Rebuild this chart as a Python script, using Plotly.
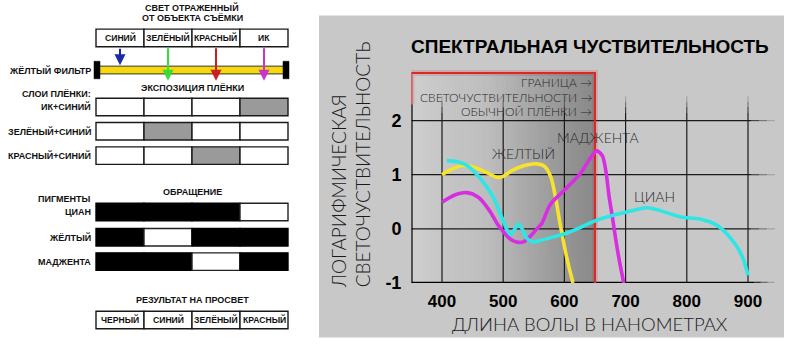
import plotly.graph_objects as go

W, H = 807, 363

# ---------------- data ----------------
light_labels = ["СИНИЙ", "ЗЕЛЁНЫЙ", "КРАСНЫЙ", "ИК"]
arrow_colors = ["#1b2aa6", "#35dd35", "#cc1f1f", "#cc33cc"]
arrow_stops = ["filter", "film", "film", "film"]
film_rows = ["ИК+СИНИЙ", "ЗЕЛЁНЫЙ+СИНИЙ", "КРАСНЫЙ+СИНИЙ"]
film_exposed = [[0, 0, 0, 1], [0, 1, 0, 0], [0, 0, 1, 0]]
pigment_rows = ["ЦИАН", "ЖЁЛТЫЙ", "МАДЖЕНТА"]
pigment_dense = [[1, 1, 1, 0], [1, 0, 1, 1], [1, 1, 0, 1]]
result_labels = ["ЧЕРНЫЙ", "СИНИЙ", "ЗЕЛЁНЫЙ", "КРАСНЫЙ"]

yellow_nm = [400, 415, 435, 455, 475, 490, 500, 515, 535, 555, 568, 578, 586, 593, 604, 614]
yellow_val = [1.0, 1.1, 1.17, 1.13, 1.03, 0.95, 0.97, 1.08, 1.17, 1.2, 1.15, 0.95, 0.55, 0.09, -0.54, -1.0]

magenta_nm = [400, 420, 440, 460, 478, 490, 500, 512, 525, 533, 545, 555, 563, 577, 604, 626, 642, 653, 662, 668, 673, 678, 684, 690, 697]
magenta_val = [0.49, 0.62, 0.67, 0.58, 0.33, 0.1, -0.05, -0.19, -0.25, -0.24, -0.13, 0.0, 0.1, 0.45, 0.76, 1.02, 1.3, 1.44, 1.35, 1.05, 0.6, 0.25, -0.2, -0.6, -1.0]

cyan_nm = [408, 425, 441, 462, 483, 500, 511, 518, 525, 531, 538, 548, 565, 585, 601, 625, 653, 680, 702, 735, 767, 790, 821, 845, 859, 872, 882, 892, 900]
cyan_val = [1.26, 1.24, 1.17, 0.94, 0.6, 0.15, -0.1, -0.02, 0.09, 0.0, -0.17, -0.24, -0.2, -0.14, -0.09, 0.02, 0.16, 0.25, 0.31, 0.39, 0.3, 0.22, 0.18, 0.09, -0.02, -0.18, -0.33, -0.55, -0.86]

x_ticks = [400, 500, 600, 700, 800, 900]
y_ticks = [-1, 0, 1, 2]

band_nm = list(range(350, 652, 2))
band_colors = [[0, "#cfcfcf"], [0.15, "#c7c7c7"], [0.4, "#bebebe"], [0.55, "#b0b0b0"],
               [0.75, "#9d9d9d"], [0.92, "#8e8e8e"], [1, "#8b8b8b"]]
limit_nm = 650
box_top = 2.88

LIGHT = "Lato"
BOLD = "Liberation Sans"


def P(x, y):
    return x / W, 1 - y / H


fig = go.Figure()
shapes = []
annots = []


def rect(x0, y0, x1, y1, fill, line="#1a1a1a", lw=1.4):
    a, b = P(x0, y0)
    c, d = P(x1, y1)
    shapes.append(dict(type="rect", xref="paper", yref="paper", x0=a, y0=d, x1=c, y1=b,
                       fillcolor=fill, line=dict(color=line, width=lw), layer="below"))


def text(x, y, s, size=9, anchor="center", bold=True, color="#111", family=BOLD):
    a, b = P(x, y)
    annots.append(dict(x=a, y=b, xref="paper", yref="paper", text=s, showarrow=False,
                       xanchor=anchor, yanchor="middle",
                       font=dict(family=family, size=size, color=color,
                                 weight="bold" if bold else "normal")))


# ---------------- left diagram ----------------
edges = [96, 144, 192, 240, 288]
cx = [(edges[i] + edges[i + 1]) / 2 for i in range(4)]
CELL = 8.6

text(192, 8, "СВЕТ ОТРАЖЕННЫЙ")
text(192, 19, "ОТ ОБЪЕКТА СЪЁМКИ")
for i, lab in enumerate(light_labels):
    rect(edges[i], 30, edges[i + 1], 48, "white")
    text(cx[i], 39, lab, size=CELL)

# yellow filter
rect(97, 68, 286, 76, "#f6d80c", line="#333", lw=1)
rect(94, 63, 100, 81, "black", line="black", lw=0.5)
rect(283, 63, 289, 81, "black", line="black", lw=0.5)
text(93, 72, "ЖЁЛТЫЙ ФИЛЬТР", anchor="right")

arrow_x = [120, 168, 216, 264]
for i in range(4):
    end = 67 if arrow_stops[i] == "filter" else 83
    a, b = P(arrow_x[i], end)
    annots.append(dict(x=a, y=b, xref="paper", yref="paper", text="", showarrow=True,
                       ax=0, ay=-(end - 49), axref="pixel", ayref="pixel",
                       arrowhead=2, arrowsize=1.1, arrowwidth=2, arrowcolor=arrow_colors[i]))

text(192, 90, "ЭКСПОЗИЦИЯ ПЛЁНКИ")
text(93, 97, "СЛОИ ПЛЁНКИ:", anchor="right")
film_y = [101, 126, 151]
for r, lab in enumerate(film_rows):
    y0 = film_y[r]
    for i in range(4):
        rect(edges[i], y0, edges[i + 1], y0 + 18, "#9a9a9a" if film_exposed[r][i] else "white")
    text(93, y0 + 9, lab, anchor="right")

text(192, 197, "ОБРАЩЕНИЕ")
text(93, 205, "ПИГМЕНТЫ", anchor="right")
pig_y = [209, 235, 260]
for r, lab in enumerate(pigment_rows):
    y0 = pig_y[r]
    for i in range(4):
        dense = pigment_dense[r][i]
        rect(edges[i], y0, edges[i + 1], y0 + 18, "black" if dense else "white",
             line="black" if dense else "#222")
    text(93, y0 + 9, lab, anchor="right")

text(192, 309, "РЕЗУЛЬТАТ НА ПРОСВЕТ")
for i, lab in enumerate(result_labels):
    rect(edges[i], 320, edges[i + 1], 338, "white")
    text(cx[i], 329, lab, size=CELL)

# ---------------- right chart panel ----------------
rect(319, 16, 784, 347, "#c8c8c8", line="#c8c8c8", lw=0)

fig.add_trace(go.Heatmap(
    x=band_nm, y=[-1, box_top], z=[band_nm[:-1]], zmin=350, zmax=650,
    colorscale=band_colors, showscale=False, hoverinfo="skip"))


def seg(xs, ys, color="#1a1a1a", width=1.2, opacity=1.0):
    fig.add_trace(go.Scatter(x=xs, y=ys, mode="lines", opacity=opacity,
                             line=dict(color=color, width=width), hoverinfo="skip",
                             showlegend=False, cliponaxis=False))


fade = [(0.75, 0), (0.45, 1), (0.2, 2)]
# horizontal grid
for v in [0, 1, 2]:
    seg([350, 905], [v, v])
    for op, k in fade:
        seg([905 + 13 * k, 918 + 13 * k], [v, v], opacity=op)
# vertical grid
for t in x_ticks:
    seg([t, t], [-1, 2.15])
    for op, k in fade:
        seg([t, t], [2.15 + 0.1 * k, 2.25 + 0.1 * k], opacity=op)
# x axis line
seg([350, 910], [-1, -1], color="black", width=2.6)
for op, k in fade:
    seg([910 + 11 * k, 921 + 11 * k], [-1, -1], color="black", width=2.6, opacity=op)
# y axis line
seg([350, 350], [-1, 2.3], color="black", width=2.4)

# red boundary
for w, op in [(6, 0.18), (2, 1.0)]:
    seg([350, 350, limit_nm, limit_nm], [2.3, box_top, box_top, -1], color="#d42a2a", width=w, opacity=op)

# curves
for nm, val, col in [(yellow_nm, yellow_val, "#f7e22e"), (magenta_nm, magenta_val, "#d62ee0"),
                     (cyan_nm, cyan_val, "#2ee6e6")]:
    fig.add_trace(go.Scatter(x=nm, y=val, mode="lines", line=dict(color=col, width=3.6, shape="spline", smoothing=0.8),
                             hoverinfo="skip", showlegend=False, cliponaxis=False))


def dtext(x, y, s, size, anchor="center", color="#2a2a2a"):
    annots.append(dict(x=x, y=y, xref="x", yref="y", text=s, showarrow=False, xanchor=anchor,
                       yanchor="middle", font=dict(family=LIGHT, size=size, color=color, weight=300)))


dtext(648, 2.70, "ГРАНИЦА →", 12, anchor="right")
dtext(648, 2.43, "СВЕТОЧУСТВИТЕЛЬНОСТИ →", 12, anchor="right")
dtext(648, 2.16, "ОБЫЧНОЙ ПЛЁНКИ →", 12, anchor="right")
dtext(533, 1.40, "ЖЕЛТЫЙ", 14)
dtext(655, 1.68, "МАДЖЕНТА", 14)
dtext(748, 0.60, "ЦИАН", 14)

a, b = P(590, 48)
annots.append(dict(x=a, y=b, xref="paper", yref="paper", text="СПЕКТРАЛЬНАЯ ЧУСТВИТЕЛЬНОСТЬ",
                   showarrow=False, xanchor="center", yanchor="middle",
                   font=dict(family=BOLD, size=19, color="black", weight="bold")))
a, b = P(590, 333)
annots.append(dict(x=a, y=b, xref="paper", yref="paper", text="ДЛИНА ВОЛЫ В НАНОМЕТРАХ",
                   showarrow=False, xanchor="center", yanchor="middle",
                   font=dict(family=LIGHT, size=18.5, color="#1a1a1a", weight=300)))
a, b = P(351, 170)
annots.append(dict(x=a, y=b, xref="paper", yref="paper",
                   text="ЛОГАРИФМИЧЕСКАЯ<br>СВЕТОЧУСТВИТЕЛЬНОСТЬ", textangle=-90, align="left",
                   showarrow=False, xanchor="center", yanchor="middle",
                   font=dict(family=LIGHT, size=19, color="#1a1a1a", weight=300)))

fig.update_layout(
    width=W, height=H, margin=dict(l=0, r=0, t=0, b=0, pad=0),
    paper_bgcolor="white", plot_bgcolor="rgba(0,0,0,0)",
    shapes=shapes, annotations=annots, showlegend=False,
    xaxis=dict(domain=[411.4 / W, 778.6 / W], range=[350, 950], showgrid=False, zeroline=False,
               showline=False, tickvals=x_ticks, ticktext=[str(t) for t in x_ticks], ticks="",
               ticklabelstandoff=6, fixedrange=True,
               tickfont=dict(family=BOLD, size=17, color="black", weight="bold")),
    yaxis=dict(domain=[72 / H, (H - 57.2) / H], range=[-1, 3.2], showgrid=False, zeroline=False,
               showline=False, tickvals=y_ticks, ticktext=[str(t) for t in y_ticks], ticks="",
               ticklabelstandoff=9, fixedrange=True,
               tickfont=dict(family=BOLD, size=18, color="black", weight="bold")),
)

fig.write_html("out.html", config={"displayModeBar": False},
               post_script="document.body.style.margin='0';document.body.style.padding='0';")
